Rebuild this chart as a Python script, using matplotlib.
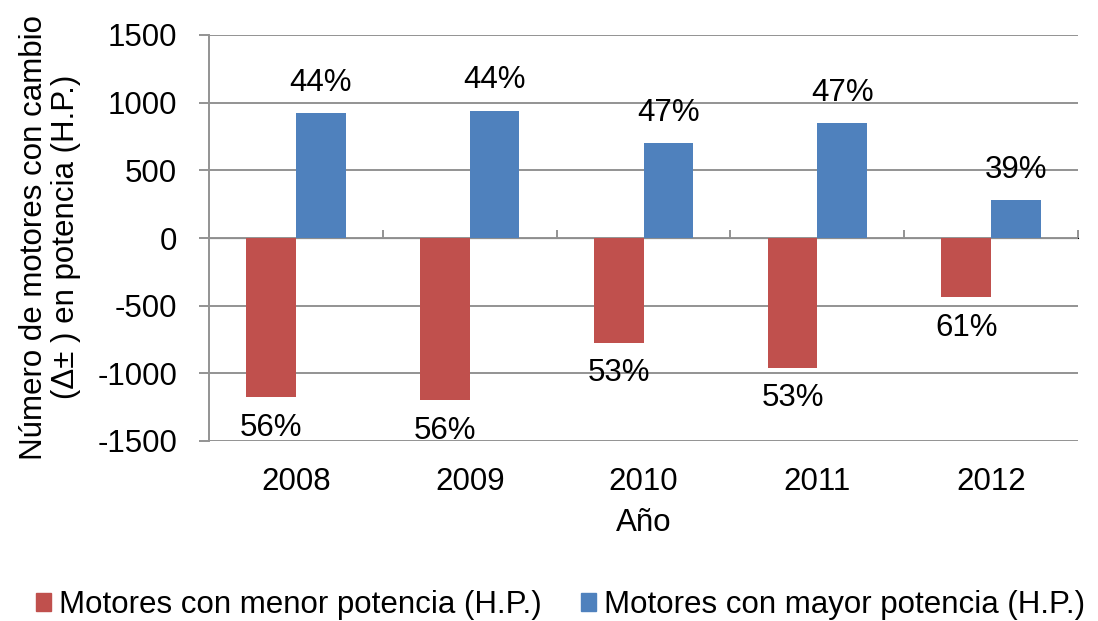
import numpy as np
import matplotlib
matplotlib.use('Agg')
import matplotlib.pyplot as plt
from matplotlib.patches import Patch

plt.rcParams['font.family'] = ['Liberation Sans', 'DejaVu Sans']
plt.rcParams['axes.unicode_minus'] = False

# data
years = ['2008', '2009', '2010', '2011', '2012']
menor = [-1175, -1200, -775, -960, -436]     # motores con menor potencia
mayor = [923, 942, 699, 849, 278]           # motores con mayor potencia
pct_menor = ['56%', '56%', '53%', '53%', '61%']
pct_mayor = ['44%', '44%', '47%', '47%', '39%']

red = '#C0504D'
blue = '#4F81BD'
grey = '#939393'
fs = 22.5

fig = plt.figure(figsize=(10.98, 6.21), dpi=100)
W, H = 1098, 621
ax = fig.add_axes([209/W, 1-441/H, (1078-209)/W, (441-35)/H])

x = np.arange(len(years))
w = 1/3.5

ax.bar(x - w/2, menor, w, color=red, zorder=3)
ax.bar(x + w/2, mayor, w, color=blue, zorder=3)

for i in range(len(years)):
    ax.annotate(pct_mayor[i], (x[i] + w/2, mayor[i]), xytext=(0, 22),
                textcoords='offset points', ha='center', va='center', fontsize=fs)
    ax.annotate(pct_menor[i], (x[i] - w/2, menor[i]), xytext=(0, -22),
                textcoords='offset points', ha='center', va='center', fontsize=fs)

ax.set_xlim(-0.5, len(years) - 0.5)
ax.set_ylim(-1500, 1500)
ax.set_yticks(np.arange(-1500, 1501, 500))
ax.yaxis.grid(True, color=grey, lw=1.4, zorder=0)
ax.set_axisbelow(True)

for s in ['top', 'right', 'bottom']:
    ax.spines[s].set_visible(False)
ax.spines['left'].set_color(grey)
ax.spines['left'].set_linewidth(1.4)

ax.tick_params(axis='y', direction='out', length=7, width=1.4, color=grey,
               labelsize=fs, pad=16)
ax.set_xticks(x)
ax.set_xticklabels(years)
ax.tick_params(axis='x', length=0, labelsize=fs, pad=19)

# zero line axis with ticks between categories
sec = ax.secondary_xaxis(0.5)
sec.set_xticks(np.arange(-0.5, len(years), 1.0))
sec.set_xticklabels([])
sec.spines['bottom'].set_color(grey)
sec.spines['bottom'].set_linewidth(1.4)
sec.tick_params(direction='out', length=6, width=1.4, color=grey)

fig.text(643.5/W, 1-523/H, 'Año', ha='center', va='center', fontsize=fs)
fig.text(50/W, 0.618, 'Número de motores con cambio\n(Δ± ) en potencia (H.P.)',
         rotation=90, ha='center', va='center', fontsize=fs,
         multialignment='center', linespacing=1.1)

handles = [Patch(color=red, label='Motores con menor potencia (H.P.)'),
           Patch(color=blue, label='Motores con mayor potencia (H.P.)')]
fig.legend(handles=handles, loc='center', bbox_to_anchor=(560.5/W, 1-605/H),
           ncol=2, frameon=False, fontsize=fs, handlelength=0.5,
           handleheight=0.5, handletextpad=0.25, columnspacing=1.25,
           borderpad=0, borderaxespad=0)

fig.savefig('out.png', dpi=100)
